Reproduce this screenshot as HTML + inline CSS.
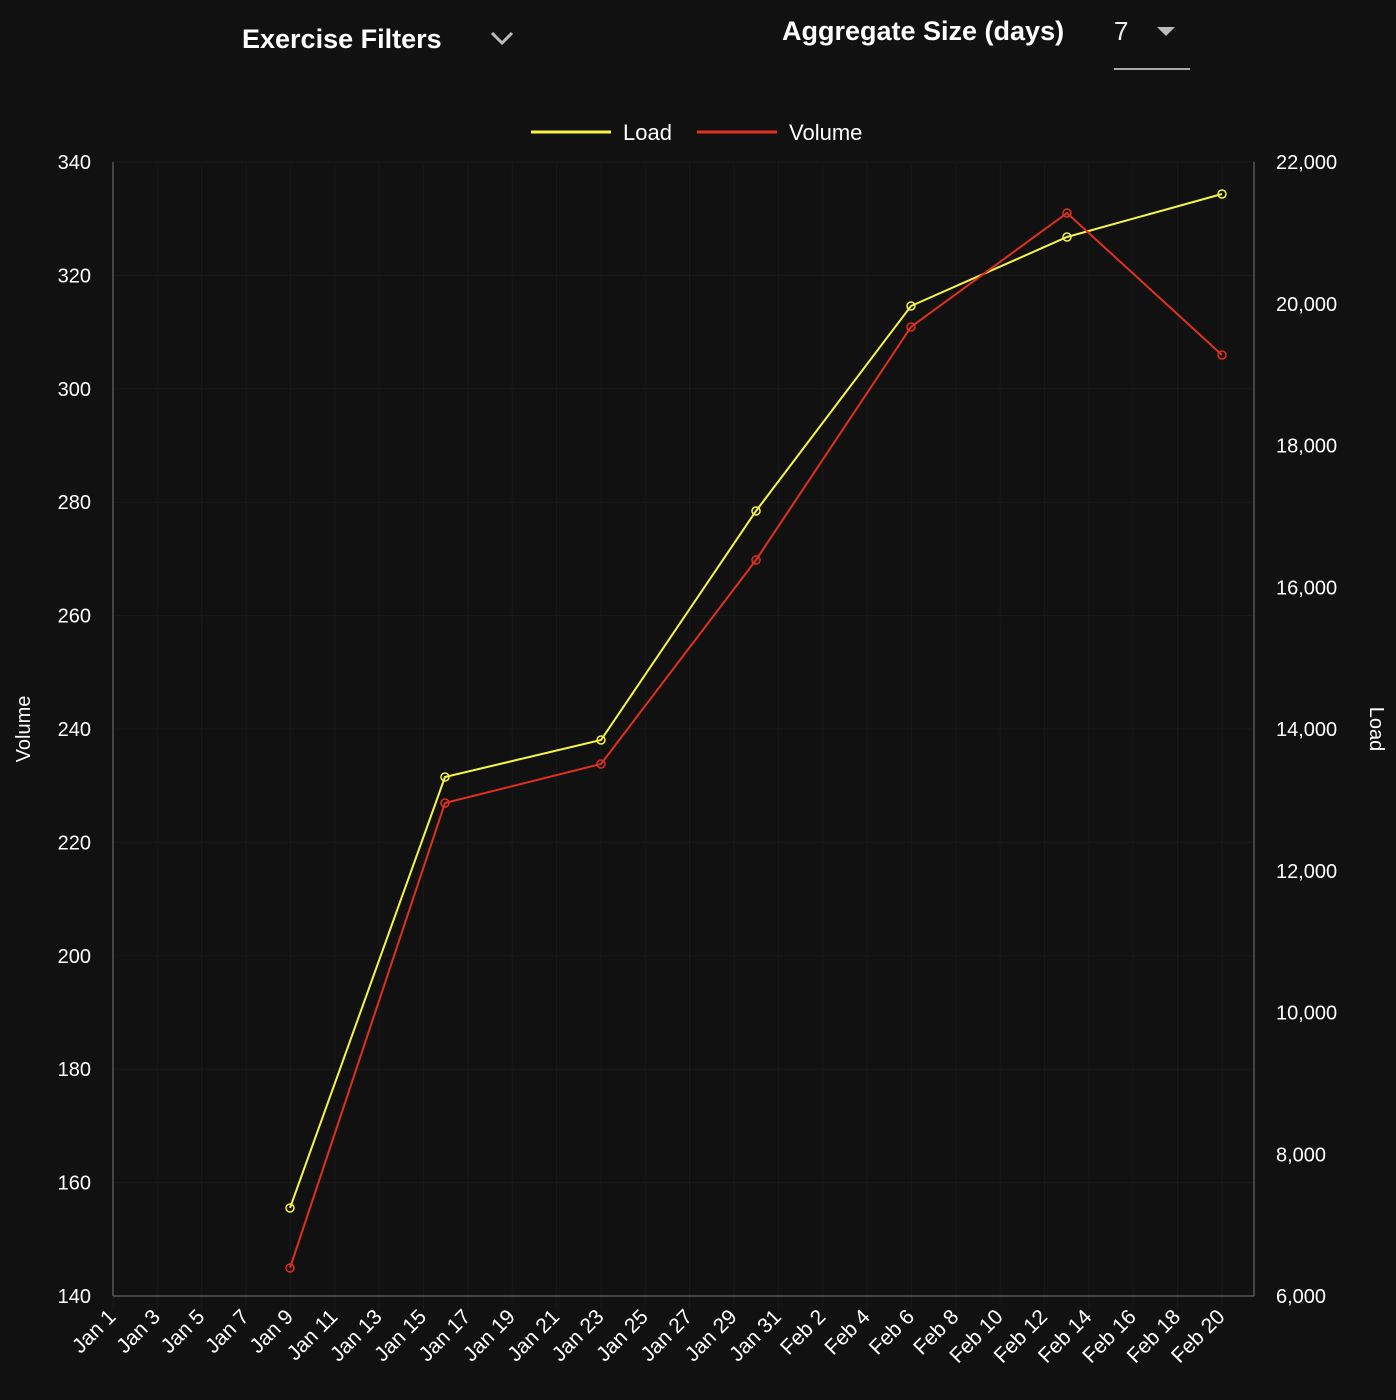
<!DOCTYPE html>
<html><head><meta charset="utf-8"><style>
html,body{margin:0;padding:0;background:#111;}
svg{display:block;font-family:"Liberation Sans",Arial,sans-serif;}
</style></head><body>
<svg width="1396" height="1400" viewBox="0 0 1396 1400">
<rect width="1396" height="1400" fill="#111"/>
<text x="242" y="48" fill="#fff" font-size="27" font-weight="bold">Exercise Filters</text>
<polyline points="492,33 502,43 512,33" fill="none" stroke="#bbb" stroke-width="3"/>
<text x="782" y="40" fill="#fff" font-size="27" font-weight="bold">Aggregate Size (days)</text>
<text x="1114" y="40" fill="#eee" font-size="26">7</text>
<polygon points="1157,27 1175,27 1166,36" fill="#bbb"/>
<line x1="1114" y1="69" x2="1190" y2="69" stroke="#aaa" stroke-width="2"/>
<line x1="531" y1="132" x2="611" y2="132" stroke="#f5f542" stroke-width="3"/>
<text x="623" y="140" fill="#fff" font-size="22">Load</text>
<line x1="697" y1="132" x2="777" y2="132" stroke="#e0301e" stroke-width="3"/>
<text x="789" y="140" fill="#fff" font-size="22">Volume</text>
<g id="grid" stroke="#191919" stroke-width="1"></g>
<g font-size="20" fill="#fff" id="labels"></g>
<line x1="113" y1="162" x2="113" y2="1296" stroke="#555" stroke-width="1.5"/>
<line x1="1254" y1="162" x2="1254" y2="1296" stroke="#555" stroke-width="1.5"/>
<line x1="113" y1="1296" x2="1254" y2="1296" stroke="#555" stroke-width="1.5"/>
<text transform="translate(30,729) rotate(-90)" text-anchor="middle" fill="#fff" font-size="20">Volume</text>
<text transform="translate(1370,729) rotate(90)" text-anchor="middle" fill="#fff" font-size="20">Load</text>
<polyline fill="none" stroke="#f5f542" stroke-width="2" points="290,1208 445,777 601,740 756,511 911,306 1067,237 1222,194"/>
<polyline fill="none" stroke="#e0301e" stroke-width="2" points="290,1268 445,803 601,764 756,560 911,327 1067,213 1222,355"/>
<g fill="none" stroke="#f5f542" stroke-width="1.5">
<circle cx="290" cy="1208" r="4"/><circle cx="445" cy="777" r="4"/><circle cx="601" cy="740" r="4"/><circle cx="756" cy="511" r="4"/><circle cx="911" cy="306" r="4"/><circle cx="1067" cy="237" r="4"/><circle cx="1222" cy="194" r="4"/></g>
<g fill="none" stroke="#e0301e" stroke-width="1.5">
<circle cx="290" cy="1268" r="4"/><circle cx="445" cy="803" r="4"/><circle cx="601" cy="764" r="4"/><circle cx="756" cy="560" r="4"/><circle cx="911" cy="327" r="4"/><circle cx="1067" cy="213" r="4"/><circle cx="1222" cy="355" r="4"/></g>
<script>
var ns="http://www.w3.org/2000/svg",g=document.getElementById("grid"),L=document.getElementById("labels");
function el(p,t,a,txt){var e=document.createElementNS(ns,t);for(var k in a)e.setAttribute(k,a[k]);if(txt)e.textContent=txt;p.appendChild(e);return e;}
for(var i=0;i<=10;i++){var y=162+i*113.4;el(g,"line",{x1:113,x2:1254,y1:y,y2:y});
el(L,"text",{x:91,y:y+7,"text-anchor":"end"},String(340-i*20));}
for(var j=0;j<=8;j++){var y2=162+j*141.75;el(L,"text",{x:1276,y:y2+7},(22000-j*2000).toLocaleString("en-US"));}
for(var d=0;d<=50;d+=2){var x=113+d*22.18;el(g,"line",{x1:x,x2:x,y1:162,y2:1310});
var m=d<31?"Jan "+(d+1):"Feb "+(d-30);
el(L,"text",{transform:"translate("+(x+4)+",1318) rotate(-45)","text-anchor":"end","font-size":"21"},m);}
</script>
</svg>
</body></html>
